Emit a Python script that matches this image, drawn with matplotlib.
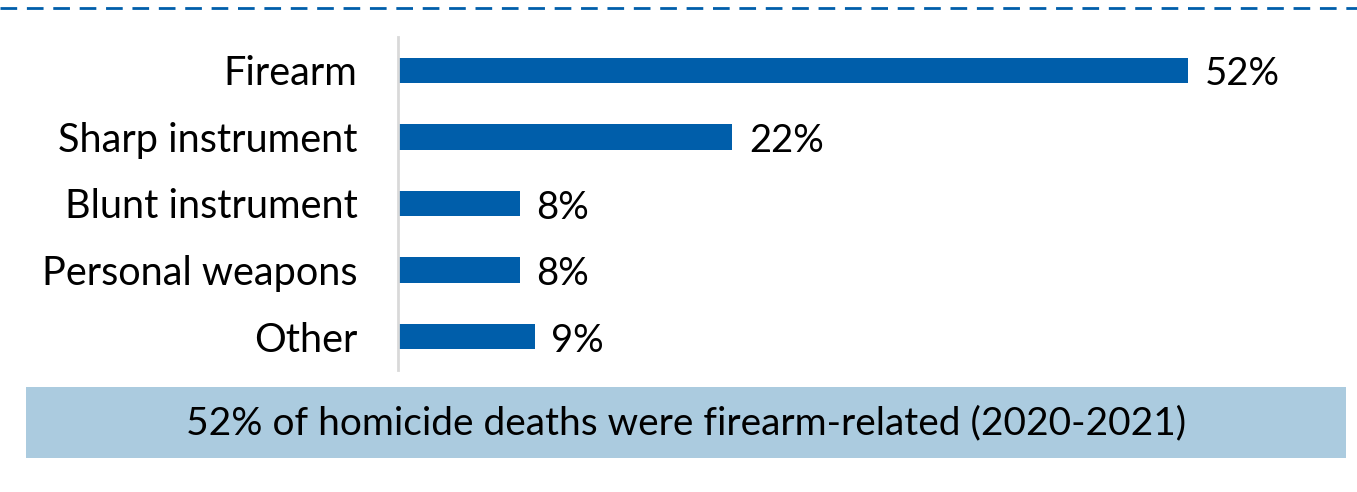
import matplotlib
matplotlib.use("Agg")
import matplotlib.pyplot as plt
from matplotlib.patches import Rectangle
from matplotlib.lines import Line2D

# data
categories = ["Firearm", "Sharp instrument", "Blunt instrument", "Personal weapons", "Other"]
values = [52, 22, 8, 8, 9]
value_labels = ["52%", "22%", "8%", "8%", "9%"]
callout = "52% of homicide deaths were firearm-related (2020-2021)"

W, H = 1357, 492
bar_color = "#005EAA"

plt.rcParams['font.family'] = ['Lato', 'DejaVu Sans']

fig = plt.figure(figsize=(W / 100, H / 100), dpi=100)

# dashed line at top
fig.add_artist(Line2D([0, 1], [1 - 8 / H, 1 - 8 / H], transform=fig.transFigure,
                      color=bar_color, lw=2, linestyle=(0, (6, 3.5))))

# bar axes
ax = fig.add_axes([398 / W, 1 - 370 / H, (W - 398) / W, 333 / H])
ypos = list(range(len(categories)))
ax.barh(ypos, values, height=0.38, color=bar_color)
ax.set_ylim(len(categories) - 0.5, -0.5)
ax.set_xlim(0, (W - 398) / 15.19)
ax.set_yticks(ypos, categories, fontsize=28.5)
ax.tick_params(axis='y', length=0, pad=29)
ax.set_xticks([])
for s in ["top", "right", "bottom"]:
    ax.spines[s].set_visible(False)
ax.spines["left"].set_color("#D9D9D9")
ax.spines["left"].set_linewidth(2)

for y, v, lab in zip(ypos, values, value_labels):
    ax.annotate(lab, (v, y), xytext=(12, -3), textcoords="offset points",
                va="center", ha="left", fontsize=27.5)

# callout box
fig.add_artist(Rectangle((26 / W, 1 - 458 / H), (1346 - 26) / W, 71 / H,
                         transform=fig.transFigure, facecolor="#ABCBDF", edgecolor="none"))
fig.text(686 / W, 1 - 423 / H, callout, ha="center", va="center", fontsize=28)

fig.savefig("out.png", dpi=100)
